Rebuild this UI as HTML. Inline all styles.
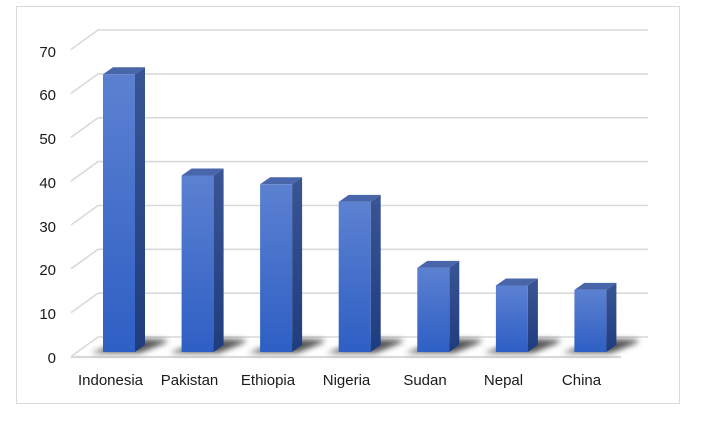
<!DOCTYPE html>
<html>
<head>
<meta charset="utf-8">
<style>
  html, body { margin: 0; padding: 0; background: #ffffff; }
  svg { display: block; }
  text { font-family: "Liberation Sans", "DejaVu Sans", sans-serif; font-size: 15px; fill: #1a1a1a; }
</style>
</head>
<body>
<svg width="707" height="430" viewBox="0 0 707 430" xmlns="http://www.w3.org/2000/svg">
  <defs>
    <linearGradient id="front" x1="0" y1="0" x2="0" y2="1">
      <stop offset="0" stop-color="#5c81d1"/>
      <stop offset="1" stop-color="#2e5fc4"/>
    </linearGradient>
    <linearGradient id="side" x1="0" y1="0" x2="0" y2="1">
      <stop offset="0" stop-color="#3a5594"/>
      <stop offset="1" stop-color="#1f3c7e"/>
    </linearGradient>
    <filter id="blur" x="-50%" y="-50%" width="200%" height="200%">
      <feGaussianBlur stdDeviation="3"/>
    </filter>
  </defs>

  <rect x="16.5" y="6.5" width="663" height="397" fill="#ffffff" stroke="#d9d9d9" stroke-width="1"/>

  <g stroke="#d9d9d9" stroke-width="1.6" fill="none">
    <polyline points="71,49.5 98,30 648,30"/>
    <polyline points="71,93.4 98,73.9 648,73.9"/>
    <polyline points="71,137.3 98,117.8 648,117.8"/>
    <polyline points="71,181.1 98,161.6 648,161.6"/>
    <polyline points="71,225 98,205.5 648,205.5"/>
    <polyline points="71,268.8 98,249.3 648,249.3"/>
    <polyline points="71,312.7 98,293.2 648,293.2"/>
    <polyline points="71,356.5 98,337 648,337"/>
  </g>
  <line x1="71" y1="357" x2="621" y2="357" stroke="#d9d9d9" stroke-width="2.2"/>

  <g text-anchor="end">
    <text x="56" y="57">70</text>
    <text x="56" y="100">60</text>
    <text x="56" y="144">50</text>
    <text x="56" y="188">40</text>
    <text x="56" y="232">30</text>
    <text x="56" y="275">20</text>
    <text x="56" y="319">10</text>
    <text x="56" y="363">0</text>
  </g>

  <g fill="#3a3a3a" filter="url(#blur)" opacity="0.85">
    <polygon points="91,353 140,353 165,343 168,340 145,339 110,346"/>
    <polygon points="169.6,353 218.6,353 243.6,343 246.6,340 223.6,339 188.6,346"/>
    <polygon points="248.1,353 297.1,353 322.1,343 325.1,340 302.1,339 267.1,346"/>
    <polygon points="326.7,353 375.7,353 400.7,343 403.7,340 380.7,339 345.7,346"/>
    <polygon points="405.3,353 454.3,353 479.3,343 482.3,340 459.3,339 424.3,346"/>
    <polygon points="483.9,353 532.9,353 557.9,343 560.9,340 537.9,339 502.9,346"/>
    <polygon points="562.4,353 611.4,353 636.4,343 639.4,340 616.4,339 581.4,346"/>
  </g>

  <g>
    <polygon points="103,74.3 135,74.3 145,67.3 113,67.3" fill="#4866a9"/>
    <polygon points="135,74.3 145,67.3 145,345 135,352" fill="url(#side)"/>
    <rect x="103" y="74.3" width="32" height="277.7" fill="url(#front)"/>
  </g>
  <g transform="translate(78.6,0)">
    <polygon points="103,175.5 135,175.5 145,168.5 113,168.5" fill="#4866a9"/>
    <polygon points="135,175.5 145,168.5 145,345 135,352" fill="url(#side)"/>
    <rect x="103" y="175.5" width="32" height="176.5" fill="url(#front)"/>
  </g>
  <g transform="translate(157.1,0)">
    <polygon points="103,184.3 135,184.3 145,177.3 113,177.3" fill="#4866a9"/>
    <polygon points="135,184.3 145,177.3 145,345 135,352" fill="url(#side)"/>
    <rect x="103" y="184.3" width="32" height="167.7" fill="url(#front)"/>
  </g>
  <g transform="translate(235.7,0)">
    <polygon points="103,201.9 135,201.9 145,194.9 113,194.9" fill="#4866a9"/>
    <polygon points="135,201.9 145,194.9 145,345 135,352" fill="url(#side)"/>
    <rect x="103" y="201.9" width="32" height="150.1" fill="url(#front)"/>
  </g>
  <g transform="translate(314.3,0)">
    <polygon points="103,267.9 135,267.9 145,260.9 113,260.9" fill="#4866a9"/>
    <polygon points="135,267.9 145,260.9 145,345 135,352" fill="url(#side)"/>
    <rect x="103" y="267.9" width="32" height="84.1" fill="url(#front)"/>
  </g>
  <g transform="translate(392.9,0)">
    <polygon points="103,285.5 135,285.5 145,278.5 113,278.5" fill="#4866a9"/>
    <polygon points="135,285.5 145,278.5 145,345 135,352" fill="url(#side)"/>
    <rect x="103" y="285.5" width="32" height="66.5" fill="url(#front)"/>
  </g>
  <g transform="translate(471.4,0)">
    <polygon points="103,289.9 135,289.9 145,282.9 113,282.9" fill="#4866a9"/>
    <polygon points="135,289.9 145,282.9 145,345 135,352" fill="url(#side)"/>
    <rect x="103" y="289.9" width="32" height="62.1" fill="url(#front)"/>
  </g>

  <g text-anchor="middle">
    <text x="110.5" y="385">Indonesia</text>
    <text x="189.5" y="385">Pakistan</text>
    <text x="268" y="385">Ethiopia</text>
    <text x="346.5" y="385">Nigeria</text>
    <text x="425" y="385">Sudan</text>
    <text x="503.5" y="385">Nepal</text>
    <text x="581.5" y="385">China</text>
  </g>
</svg>
</body>
</html>
